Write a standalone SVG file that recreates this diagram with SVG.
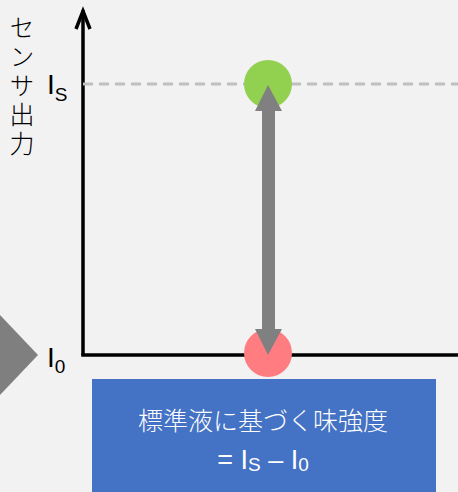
<svg xmlns="http://www.w3.org/2000/svg" width="458" height="492" viewBox="0 0 458 492">
<style>
.lbl{font-family:"Liberation Sans","Noto Sans",sans-serif;fill:#000}
.jp{font-family:"Noto Sans CJK JP",sans-serif;font-weight:300}
.box{font-family:"Noto Sans CJK JP",sans-serif;font-weight:300;fill:#fff}
</style>
<rect width="458" height="492" fill="#f2f2f2"/>
<g id="indicator"><polygon points="-2,313 38,355 -2,397" fill="#7f7f7f"/></g>
<g id="axes" fill="none" stroke="#000" stroke-width="3.5">
<line x1="83" y1="10" x2="83" y2="355"/>
<line x1="81.25" y1="355" x2="458" y2="355"/>
<polyline points="76,29 83,11 90,29" stroke-linejoin="miter"/>
</g>
<g id="connectors">
<line x1="83" y1="84" x2="458" y2="84" stroke="#bfbfbf" stroke-width="3" stroke-dasharray="10,6"/>
</g>
<g id="point-s"><circle cx="268" cy="84" r="24" fill="#92d050"/></g>
<g id="point-0"><circle cx="268" cy="353" r="24" fill="#ff7c80"/></g>
<g id="double-arrow"><polygon points="268,85 282,111 275,111 275,329 282,329 268,355 255,329 262,329 262,111 255,111" fill="#808080"/></g>
<g id="ylabel"><text class="jp" x="22" y="15" font-size="25" writing-mode="vertical-rl" letter-spacing="4">センサ出力</text></g>
<g id="label-s"><text class="lbl" x="47" y="94" font-size="28">I<tspan font-size="19" dy="7">S</tspan></text></g>
<g id="label-0"><text class="lbl" x="47" y="367" font-size="28">I<tspan font-size="19" dy="6">0</tspan></text></g>
<g id="result">
<rect x="92" y="379" width="344" height="113" fill="#4472c4"/>
<text class="box" x="263" y="430" font-size="25" text-anchor="middle">標準液に基づく味強度</text>
<text x="263" y="469" font-size="27" text-anchor="middle" style="font-family:'Liberation Sans',sans-serif;fill:#fff">= I<tspan font-size="19" dy="2">S</tspan><tspan dy="-2"> – I</tspan><tspan font-size="19" dy="2">0</tspan></text>
</g>
</svg>
